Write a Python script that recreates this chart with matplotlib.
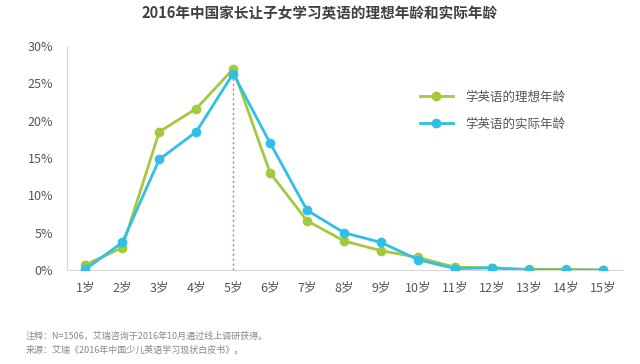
import matplotlib.pyplot as plt
from matplotlib.ticker import FuncFormatter

plt.rcParams['font.family'] = ['Noto Sans CJK SC', 'DejaVu Sans']

ages = list(range(1, 16))
age_labels = [f"{a}岁" for a in ages]
ideal = [0.7, 3.0, 18.5, 21.6, 26.9, 13.0, 6.6, 3.9, 2.6, 1.7, 0.4, 0.3, 0.1, 0.1, 0.0]
actual = [0.1, 3.7, 14.8, 18.5, 26.3, 17.0, 8.0, 5.0, 3.7, 1.4, 0.2, 0.3, 0.0, 0.0, 0.0]

green = "#a5c93c"
blue = "#30bfe6"

fig = plt.figure(figsize=(6.4, 3.64), dpi=100)
ax = fig.add_axes([0.105, 0.258, 0.868, 0.616])

ax.plot([5, 5], [0, 26.5], color="#e8686a", linestyle=(0, (1.5, 2)), linewidth=1, zorder=1)
ax.plot(ages, ideal, color=green, linewidth=2, marker="o", markersize=6, label="学英语的理想年龄", zorder=2)
ax.plot(ages, actual, color=blue, linewidth=2, marker="o", markersize=6, label="学英语的实际年龄", zorder=3)

ax.set_xlim(0.51, 15.54)
ax.set_ylim(0, 30)
ax.set_yticks([0, 5, 10, 15, 20, 25, 30])
ax.yaxis.set_major_formatter(FuncFormatter(lambda v, p: f"{v:.0f}%"))
ax.set_xticks(ages)
ax.set_xticklabels(age_labels)
ax.tick_params(length=0, labelsize=9, colors="#555555")
ax.tick_params(axis="x", pad=8)
ax.tick_params(axis="y", pad=10)
for s in ["top", "right"]:
    ax.spines[s].set_visible(False)
ax.spines["left"].set_color("#d9d9d9")
ax.spines["bottom"].set_color("#d9d9d9")

ax.legend(loc="upper left", bbox_to_anchor=(0.615, 0.85), frameon=False, fontsize=9,
          labelspacing=1.1, handlelength=2.6, handletextpad=1.0, labelcolor="#555555")

fig.text(0.5, 0.963, "2016年中国家长让子女学习英语的理想年龄和实际年龄", ha="center", va="center",
         fontsize=10.5, fontweight="bold", color="#404040")
fig.text(0.04, 0.068, "注释：N=1506，艾瑞咨询于2016年10月通过线上调研获得。", fontsize=6.5, color="#888888")
fig.text(0.04, 0.03, "来源：艾瑞《2016年中国少儿英语学习现状白皮书》。", fontsize=6.5, color="#888888")

fig.savefig("out.png", dpi=100)
